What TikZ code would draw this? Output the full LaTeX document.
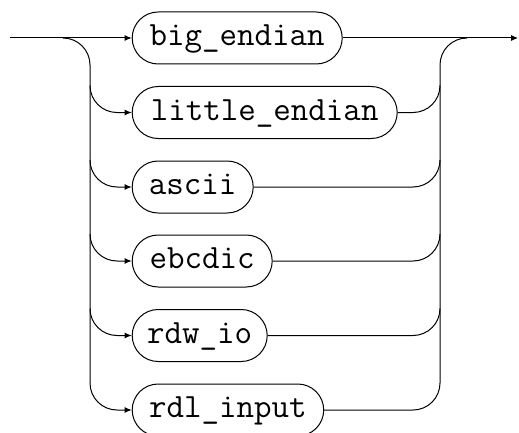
\documentclass[tikz,border=0pt]{standalone}
\usepackage{fontspec}
\usetikzlibrary{arrows.meta}
\begin{document}
\begin{tikzpicture}[x=1pt,y=1pt,
  rail/.style={line width=1pt},
  tip/.style={-{Latex[length=7pt,width=6pt]}},
  term/.style={draw, line width=1pt, rectangle, rounded corners=26pt,
    minimum height=52pt, inner xsep=0pt, inner ysep=0pt,
    text height=21pt, text depth=6pt, anchor=west,
    font=\ttfamily\fontsize{34}{40}\selectfont}]
\useasboundingbox (0,0) rectangle (519,432);
\coordinate (start) at (10,394);
\coordinate (end) at (518,394);
\coordinate (lsplit) at (63,394);
\coordinate (rjoin) at (467,394);
\node[term, minimum width=210pt] (t1) at (131.7,394) {big\_endian};
\node[term, minimum width=265pt] (t2) at (131.7,319.5) {little\_endian};
\node[term, minimum width=121pt] (t3) at (131.7,245) {ascii};
\node[term, minimum width=140pt] (t4) at (131.7,171) {ebcdic};
\node[term, minimum width=135pt] (t5) at (131.7,96.5) {rdw\_io};
\node[term, minimum width=191.5pt] (t6) at (131.7,22) {rdl\_input};
\draw[rail,tip] (start) -- (t1.west);
\draw[rail,tip] (t1.east) -- (end);
\draw[rail] (lsplit) arc[start angle=90,end angle=0,radius=27pt] -- (90,49);
\draw[rail] (rjoin) arc[start angle=90,end angle=180,radius=27pt] -- (440,49);
\foreach \n/\y in {t2/319.5,t3/245,t4/171,t5/96.5,t6/22}{
  \draw[rail,tip] (90,\y+27) arc[start angle=180,end angle=270,radius=27pt] -- (\n.west);
  \draw[rail] (\n.east) -- (413,\y) arc[start angle=270,end angle=360,radius=27pt];
}
\end{tikzpicture}
\end{document}
